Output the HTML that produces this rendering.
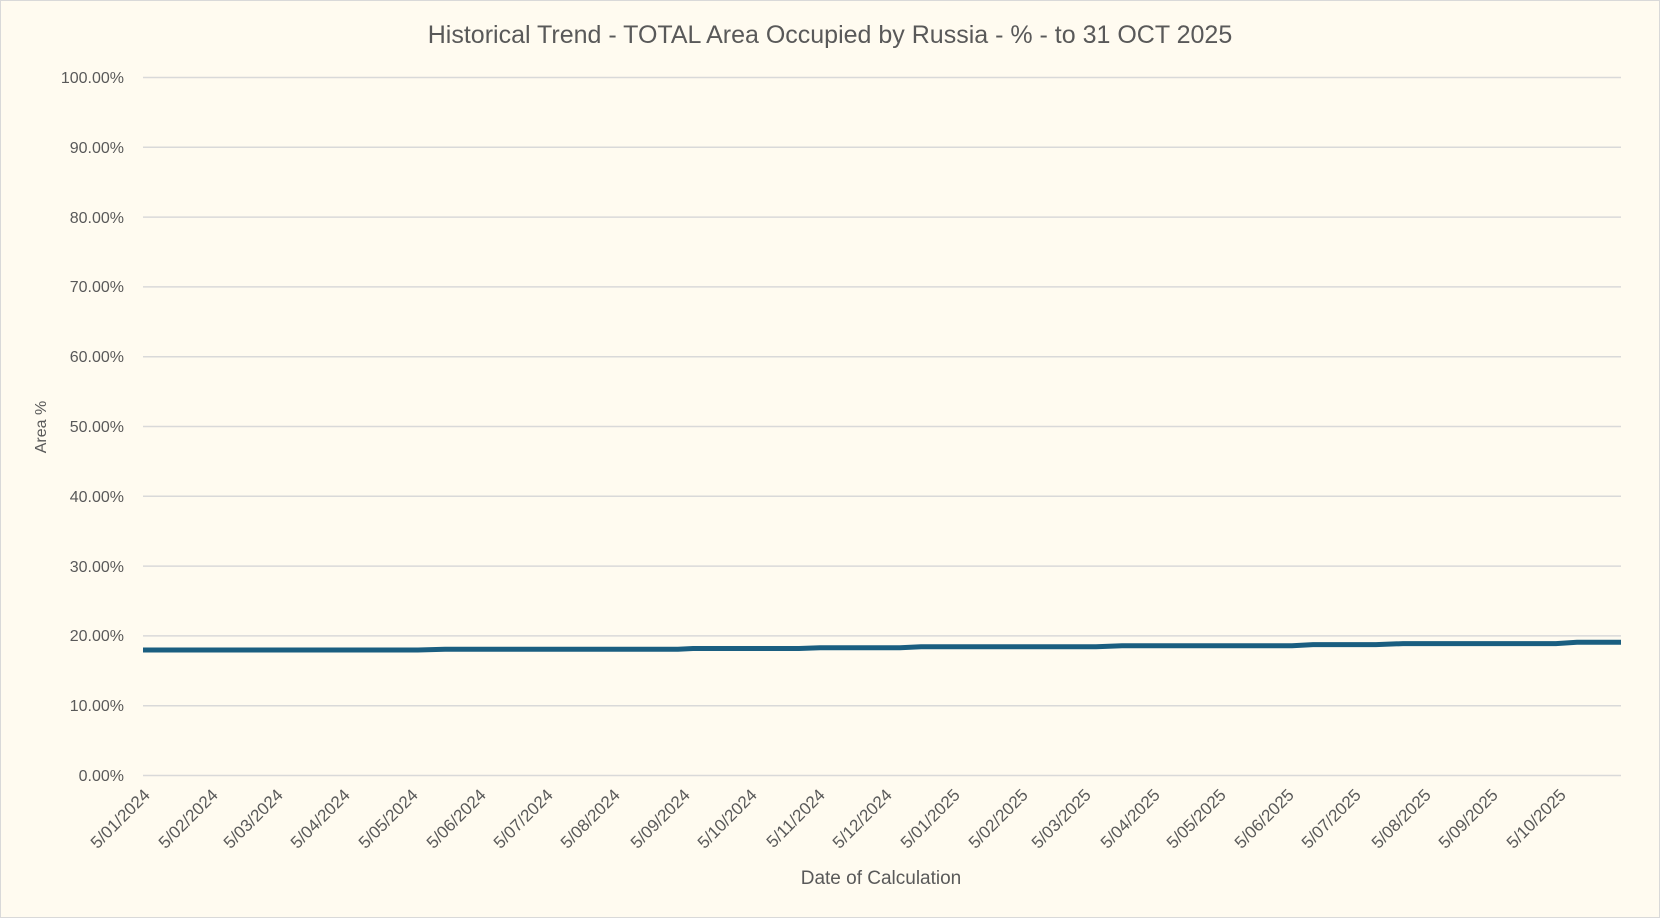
<!DOCTYPE html>
<html><head><meta charset="utf-8"><style>
html,body{margin:0;padding:0;background:#fffbf0;}
svg{display:block;font-family:"Liberation Sans",sans-serif;}
</style></head><body>
<svg width="1660" height="918" viewBox="0 0 1660 918" xmlns="http://www.w3.org/2000/svg">
<rect x="0.5" y="0.5" width="1659" height="917" fill="#fffbf0" stroke="#d9d9d9"/>
<text x="830" y="43" text-anchor="middle" font-size="25" fill="#595959">Historical Trend - TOTAL Area Occupied by Russia - % - to 31 OCT 2025</text>
<g stroke="#d9d9d9" stroke-width="1.5">
<line x1="143" x2="1621" y1="77.5" y2="77.5"/>
<line x1="143" x2="1621" y1="147.3" y2="147.3"/>
<line x1="143" x2="1621" y1="217.1" y2="217.1"/>
<line x1="143" x2="1621" y1="286.9" y2="286.9"/>
<line x1="143" x2="1621" y1="356.7" y2="356.7"/>
<line x1="143" x2="1621" y1="426.5" y2="426.5"/>
<line x1="143" x2="1621" y1="496.3" y2="496.3"/>
<line x1="143" x2="1621" y1="566.1" y2="566.1"/>
<line x1="143" x2="1621" y1="635.9" y2="635.9"/>
<line x1="143" x2="1621" y1="705.7" y2="705.7"/>
<line x1="143" x2="1621" y1="775.5" y2="775.5"/>
</g>
<g font-size="16" fill="#595959" text-anchor="end">
<text x="124" y="83">100.00%</text>
<text x="124" y="153">90.00%</text>
<text x="124" y="223">80.00%</text>
<text x="124" y="292">70.00%</text>
<text x="124" y="362">60.00%</text>
<text x="124" y="432">50.00%</text>
<text x="124" y="502">40.00%</text>
<text x="124" y="572">30.00%</text>
<text x="124" y="641">20.00%</text>
<text x="124" y="711">10.00%</text>
<text x="124" y="781">0.00%</text>
</g>
<text transform="translate(46,427) rotate(-90)" text-anchor="middle" font-size="16" fill="#595959">Area %</text>
<polyline fill="none" stroke="#1a5e80" stroke-width="5" points="143,650 418,650 445,649.2 678,649.2 693,648.5 799,648.5 820,647.8 900,647.8 921,646.7 1096,646.7 1122,645.7 1292,645.7 1313,644.6 1376,644.6 1403,643.6 1556,643.6 1577,642.2 1621,642.2"/>
<g font-size="17" fill="#595959" text-anchor="end">
<text transform="translate(151,796) rotate(-45)">5/01/2024</text>
<text transform="translate(219,796) rotate(-45)">5/02/2024</text>
<text transform="translate(284,796) rotate(-45)">5/03/2024</text>
<text transform="translate(351,796) rotate(-45)">5/04/2024</text>
<text transform="translate(419,796) rotate(-45)">5/05/2024</text>
<text transform="translate(487,796) rotate(-45)">5/06/2024</text>
<text transform="translate(554,796) rotate(-45)">5/07/2024</text>
<text transform="translate(621,796) rotate(-45)">5/08/2024</text>
<text transform="translate(691,796) rotate(-45)">5/09/2024</text>
<text transform="translate(758,796) rotate(-45)">5/10/2024</text>
<text transform="translate(826,796) rotate(-45)">5/11/2024</text>
<text transform="translate(893,796) rotate(-45)">5/12/2024</text>
<text transform="translate(961,796) rotate(-45)">5/01/2025</text>
<text transform="translate(1029,796) rotate(-45)">5/02/2025</text>
<text transform="translate(1092,796) rotate(-45)">5/03/2025</text>
<text transform="translate(1161,796) rotate(-45)">5/04/2025</text>
<text transform="translate(1227,796) rotate(-45)">5/05/2025</text>
<text transform="translate(1295,796) rotate(-45)">5/06/2025</text>
<text transform="translate(1362,796) rotate(-45)">5/07/2025</text>
<text transform="translate(1432,796) rotate(-45)">5/08/2025</text>
<text transform="translate(1499,796) rotate(-45)">5/09/2025</text>
<text transform="translate(1567,796) rotate(-45)">5/10/2025</text>
</g>
<text x="881" y="884" text-anchor="middle" font-size="19" fill="#595959">Date of Calculation</text>
</svg>
</body></html>
